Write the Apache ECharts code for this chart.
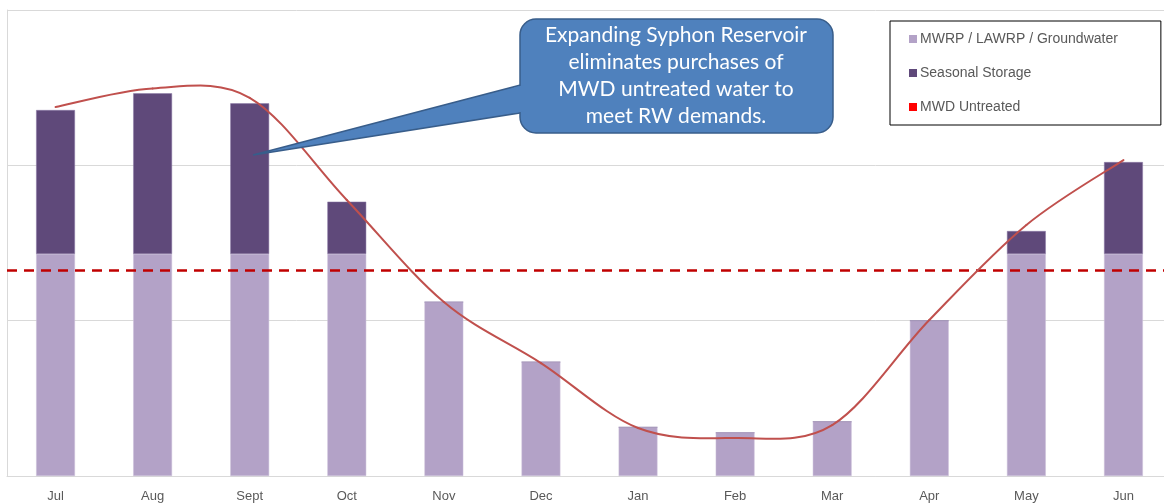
<!DOCTYPE html>
<html>
<head>
<meta charset="utf-8">
<script src="https://cdn.jsdelivr.net/npm/echarts@6/dist/echarts.min.js"></script>
<style>
html,body{margin:0;padding:0;background:#fff;}
#chart{width:1164px;height:504px;}
</style>
</head>
<body>
<div id="chart"></div>
<script>
const months = ['Jul','Aug','Sept','Oct','Nov','Dec','Jan','Feb','Mar','Apr','May','Jun'];
const baseSupply = [14.29,14.29,14.29,14.29,11.20,7.34,3.14,2.79,3.50,10.00,14.29,14.29];
const seasonalStorage = [9.27,10.35,9.70,3.37,0,0,0,0,0,0,1.48,5.92];
const demand = [23.75,24.95,24.35,17.77,11.20,7.27,3.09,2.45,3.28,10.04,16.16,20.34];
const mwdUntreated = 13.26;
const seriesNames = ['MWRP / LAWRP / Groundwater','Seasonal Storage','MWD Untreated'];
const calloutLines = ['Expanding Syphon Reservoir','eliminates purchases of','MWD untreated water to','meet RW demands.'];

const chart = echarts.init(document.getElementById('chart'), null, {renderer:'canvas'});
const calloutFill = '#4F81BD', calloutStroke = '#385D8A';

// Catmull-Rom style smoothing (like a spreadsheet smoothed line), computed through the axes
function renderDemand(params, api){
  const i = params.dataIndex;
  const n = demand.length;
  if (i >= n - 1) return null;
  const P = k => api.coord([Math.max(0, Math.min(n - 1, k)), demand[Math.max(0, Math.min(n - 1, k))]]);
  const p0 = P(i - 1), p1 = P(i), p2 = P(i + 1), p3 = P(i + 2);
  return {
    type:'bezierCurve',
    shape:{
      x1:p1[0], y1:p1[1], x2:p2[0], y2:p2[1],
      cpx1:p1[0] + (p2[0] - p0[0]) / 6, cpy1:p1[1] + (p2[1] - p0[1]) / 6,
      cpx2:p2[0] - (p3[0] - p1[0]) / 6, cpy2:p2[1] - (p3[1] - p1[1]) / 6
    },
    style:{stroke:'#C0504D', lineWidth:2, fill:null, lineCap:'round'}
  };
}

const option = {
  animation:false,
  backgroundColor:'#fff',
  grid:{left:7,width:1165,top:10,height:466,outerBoundsMode:'none',containLabel:false},
  legend:{
    orient:'vertical',
    left:890, top:21,
    padding:[11,43,11,19],
    borderColor:'#000', borderWidth:1,
    itemWidth:8, itemHeight:8, itemGap:20,
    icon:'rect',
    textStyle:{fontFamily:'Liberation Sans',fontSize:14,color:'#595959',padding:[0,0,0,-2]},
    data:[
      {name:seriesNames[0],itemStyle:{color:'#B3A2C7',borderWidth:0}},
      {name:seriesNames[1],itemStyle:{color:'#5F497A',borderWidth:0}},
      {name:seriesNames[2],itemStyle:{color:'#FF0000',borderWidth:0}}
    ]
  },
  xAxis:{
    type:'category', data:months, boundaryGap:true,
    axisLine:{lineStyle:{color:'#D9D9D9',width:1}},
    axisTick:{show:false},
    axisLabel:{fontFamily:'Liberation Sans',fontSize:13,color:'#595959',margin:14}
  },
  yAxis:{
    type:'value', min:0, max:30, interval:10,
    axisLabel:{show:false},
    axisLine:{show:true,lineStyle:{color:'#D9D9D9'}},
    axisTick:{show:false},
    splitLine:{lineStyle:{color:'#D9D9D9'}}
  },
  series:[
    {name:seriesNames[0],type:'bar',stack:'s',data:baseSupply,barWidth:'40%',
     itemStyle:{color:'#B3A2C7',borderColor:'#CCC1DA',borderWidth:0.5}},
    {name:seriesNames[1],type:'bar',stack:'s',data:seasonalStorage,barWidth:'40%',
     itemStyle:{color:'#5F497A',borderColor:'#8C7AA6',borderWidth:0.5}},
    {name:seriesNames[2],type:'line',data:[],
     itemStyle:{color:'#FF0000'},
     markLine:{silent:true,symbol:'none',label:{show:false},
       lineStyle:{color:'#C00000',type:[10,7],width:2.5},
       data:[{yAxis:mwdUntreated}]}},
    {name:'Demand',type:'custom',data:demand.map((v,i)=>[i,v]),
     encode:{x:0,y:1},renderItem:renderDemand,z:5,clip:false}
  ],
  graphic:[
    {type:'polygon',z:100,
     shape:{points:[[532,81.9],[253,155],[532,111.1]]},
     style:{fill:calloutFill,stroke:calloutStroke,lineWidth:1.5}},
    {type:'rect',z:101,
     shape:{x:520,y:19,width:313,height:114,r:16},
     style:{fill:calloutFill,stroke:calloutStroke,lineWidth:1.5}},
    {type:'polygon',z:102,
     shape:{points:[[514,87.6],[524,85.0],[524,111.4],[514,113.0]]},
     style:{fill:calloutFill}},
    {type:'text',z:103,
     style:{x:676,y:76,text:calloutLines.join('\n'),fill:'#fff',
       font:'21px Lato',align:'center',verticalAlign:'middle',lineHeight:27}}
  ]
};
chart.setOption(option);
</script>
</body>
</html>
